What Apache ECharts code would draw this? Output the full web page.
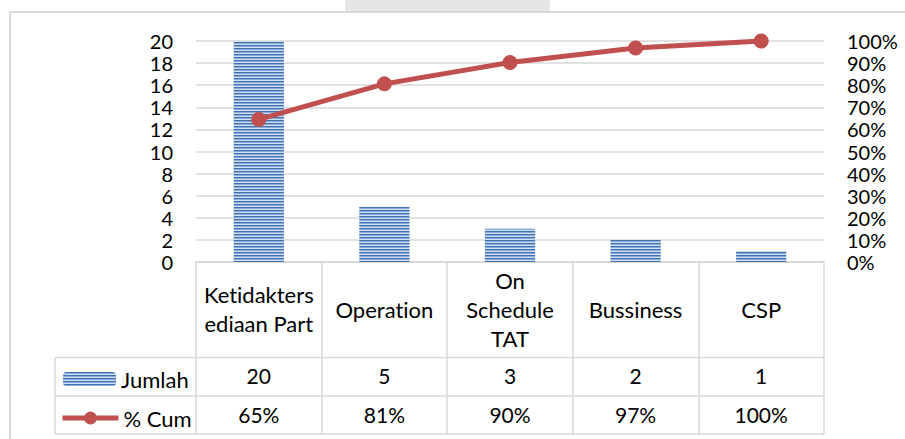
<!DOCTYPE html>
<html>
<head>
<meta charset="utf-8">
<script src="https://cdn.jsdelivr.net/npm/echarts@6/dist/echarts.min.js"></script>
<style>
  html, body { margin: 0; padding: 0; background: #fff; }
  #chart { width: 905px; height: 439px; }
  #chart text { font-variant-ligatures: none !important; }
</style>
</head>
<body>
<div id="chart"></div>
<script>
const categories = ['Ketidakters\nediaan Part', 'Operation', 'On\nSchedule\nTAT', 'Bussiness', 'CSP']
const jumlah = [20, 5, 3, 2, 1]
const cumPct = [64.5, 80.6, 90.3, 96.8, 100]
const leftTicks = { min: 0, max: 20, interval: 2 }
const rightTicks = { min: 0, max: 100, interval: 10 }

const FONT = 'Lato'
const GRID_LINE = '#d9d9d9'

// striped fill for the bars
function stripePattern() {
  const c = document.createElement('canvas')
  c.width = 4
  c.height = 3
  const ctx = c.getContext('2d')
  const rows = ['#4272b2', '#86abd9', '#cfdef1']
  rows.forEach((col, i) => {
    ctx.fillStyle = col
    ctx.fillRect(0, i, 4, 1)
  })
  return c.toDataURL()
}

const chart = echarts.init(document.getElementById('chart'), null, { renderer: 'svg' })
const barFill = { image: stripePattern(), repeat: 'repeat' }

const numStyle = { fontFamily: FONT, fontSize: 20, color: '#000' }
const wordStyle = { fontFamily: FONT, fontSize: 22, color: '#000' }

const frameLine = (x1, y1, x2, y2, w) => ({
  type: 'line',
  silent: true,
  shape: { x1, y1, x2, y2 },
  style: { stroke: GRID_LINE, lineWidth: w || 1.5 },
})

chart.setOption({
  animation: false,
  backgroundColor: '#fff',
  textStyle: { fontFamily: FONT },
  grid: { left: 196, right: 81, top: 41, bottom: 177 },
  legend: [
    {
      left: 63,
      top: 368,
      padding: 0,
      itemWidth: 53,
      itemHeight: 14,
      itemGap: 4,
      textStyle: wordStyle,
      data: ['Jumlah'],
    },
    {
      left: 60,
      top: 407,
      padding: 0,
      itemWidth: 56,
      itemHeight: 16,
      itemGap: 4,
      lineStyle: { width: 5 },
      textStyle: wordStyle,
      data: ['% Cum'],
    },
  ],
  xAxis: [
    {
      type: 'category',
      data: categories,
      axisLine: { lineStyle: { color: GRID_LINE, width: 2 } },
      axisTick: { show: true, length: 172, interval: 0, lineStyle: { color: GRID_LINE, width: 1.5 } },
      axisLabel: {
        ...wordStyle,
        interval: 0,
        margin: 47,
        verticalAlign: 'middle',
        lineHeight: 29,
      },
    },
    {
      type: 'category',
      data: categories,
      position: 'bottom',
      axisLine: { show: false },
      axisTick: { show: false },
      axisLabel: {
        ...numStyle,
        fontSize: 21,
        interval: 0,
        margin: 113,
        verticalAlign: 'middle',
        formatter: (v, i) => String(jumlah[i]),
      },
    },
    {
      type: 'category',
      data: categories,
      position: 'bottom',
      axisLine: { show: false },
      axisTick: { show: false },
      axisLabel: {
        ...numStyle,
        fontSize: 21,
        interval: 0,
        margin: 152,
        verticalAlign: 'middle',
        formatter: (v, i) => Math.round(cumPct[i]) + '%',
      },
    },
  ],
  yAxis: [
    {
      type: 'value',
      ...leftTicks,
      axisLine: { show: false },
      axisTick: { show: false },
      axisLabel: { ...numStyle, margin: 23 },
      splitLine: { lineStyle: { color: GRID_LINE, width: 1.5 } },
    },
    {
      type: 'value',
      ...rightTicks,
      axisLine: { show: false },
      axisTick: { show: false },
      axisLabel: { ...numStyle, margin: 23, formatter: '{value}%' },
      splitLine: { show: false },
    },
  ],
  graphic: [
    // page strip above the chart frame
    { type: 'rect', silent: true, shape: { x: 345, y: 0, width: 205, height: 11 }, style: { fill: '#e6e6e8' } },
    // chart frame
    frameLine(10, 12, 905, 12, 2),
    frameLine(10, 12, 10, 439, 2),
    // data table rows
    frameLine(55, 357.5, 824, 357.5),
    frameLine(55, 396, 824, 396),
    frameLine(55, 434, 824, 434),
    frameLine(55, 357.5, 55, 434),
  ],
  series: [
    {
      name: 'Jumlah',
      type: 'bar',
      data: jumlah,
      barWidth: '40%',
      itemStyle: { color: barFill },
    },
    {
      name: '% Cum',
      type: 'line',
      yAxisIndex: 1,
      data: cumPct,
      symbol: 'circle',
      symbolSize: 15,
      lineStyle: { width: 5, color: '#c0504d' },
      itemStyle: { color: '#c0504d' },
    },
  ],
})
</script>
</body>
</html>
